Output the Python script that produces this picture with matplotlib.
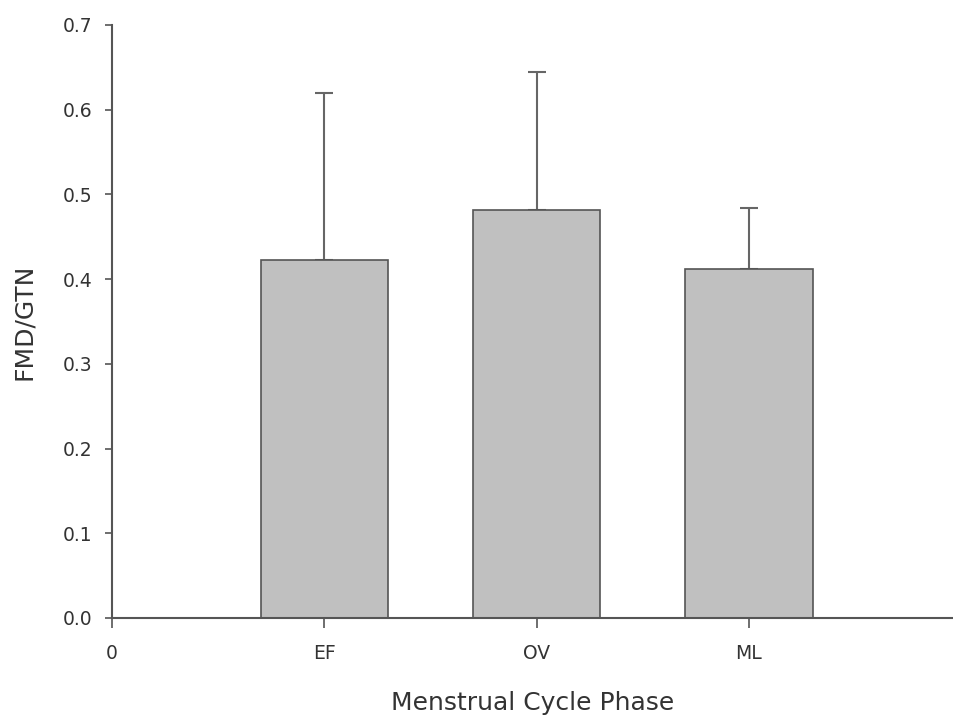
import matplotlib
matplotlib.use("Agg")
import matplotlib.pyplot as plt

# Data
phases = ["EF", "OV", "ML"]
fmd_gtn = [0.423, 0.481, 0.412]
sd_upper = [0.197, 0.164, 0.072]
tick_labels = ["0"] + phases

plt.rcParams["font.family"] = ["DejaVu Sans"]
text_col = "#333333"
axis_col = "#555555"

fig = plt.figure(figsize=(9.54, 7.15), dpi=100)
ax = fig.add_axes([0.1174, 0.1357, 0.8826, 0.8294])

x = list(range(1, len(phases) + 1))
ax.bar(x, fmd_gtn, width=0.6, color="#c0c0c0", edgecolor=axis_col, linewidth=1.2, zorder=2)
ax.errorbar(x, fmd_gtn, yerr=[[0] * len(phases), sd_upper], fmt="none",
            ecolor="#666666", elinewidth=1.5, capsize=6.5, capthick=1.5, zorder=1)

ax.set_xlim(0, 3.966)
ax.set_ylim(0, 0.7)
ax.set_xticks([0] + x)
ax.set_xticklabels(tick_labels)
ax.set_yticks([i / 10 for i in range(8)])
ax.set_yticklabels([f"{i / 10:.1f}" for i in range(8)])

for side in ["top", "right"]:
    ax.spines[side].set_visible(False)
for side in ["left", "bottom"]:
    ax.spines[side].set_color(axis_col)
    ax.spines[side].set_linewidth(1.5)

ax.tick_params(axis="y", length=5, width=1.2, pad=9, labelsize=13.5, colors=axis_col, labelcolor=text_col)
ax.tick_params(axis="x", length=7, width=1.2, pad=12, labelsize=13.5, colors=axis_col, labelcolor=text_col)

ax.set_ylabel("FMD/GTN", fontsize=18, color=text_col, labelpad=19)
ax.set_xlabel("Menstrual Cycle Phase", fontsize=18, color=text_col, labelpad=20)

fig.savefig("out.png", dpi=100)
